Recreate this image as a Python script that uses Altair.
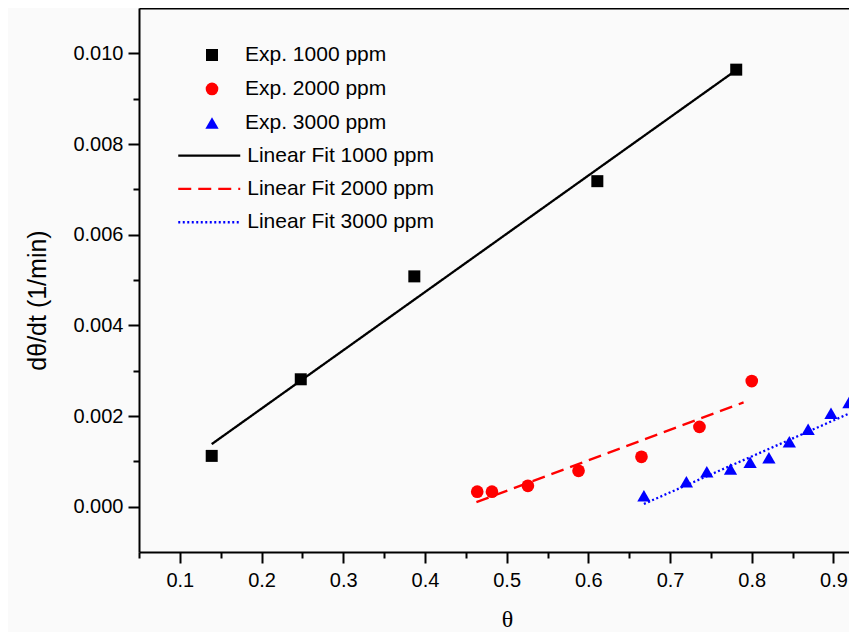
import altair as alt
import pandas as pd

# ---- data ----
exp_labels = ["Exp. 1000 ppm", "Exp. 2000 ppm", "Exp. 3000 ppm"]
fit_labels = ["Linear Fit 1000 ppm", "Linear Fit 2000 ppm", "Linear Fit 3000 ppm"]
colors = ["#000000", "#ff0000", "#0000ff"]
dashes = [[1, 0], [13, 7], [2, 2.5]]

theta_1000 = [0.139, 0.248, 0.387, 0.611, 0.781]
rate_1000 = [0.00112, 0.00281, 0.00508, 0.00718, 0.00964]

theta_2000 = [0.464, 0.482, 0.526, 0.588, 0.665, 0.736, 0.800]
rate_2000 = [0.00033, 0.00033, 0.00046, 0.00079, 0.00110, 0.00176, 0.00277]

theta_3000 = [0.668, 0.720, 0.745, 0.774, 0.798, 0.821, 0.846, 0.869, 0.897, 0.919]
rate_3000 = [0.00024, 0.00055, 0.00077, 0.00083, 0.00098, 0.00108, 0.00143, 0.00171, 0.00206, 0.00230]

fit_theta_1000 = [0.139, 0.781]
fit_rate_1000 = [0.00138, 0.00963]
fit_theta_2000 = [0.463, 0.790]
fit_rate_2000 = [0.00010, 0.00230]
fit_theta_3000 = [0.668, 0.930]
fit_rate_3000 = [0.00006, 0.00214]

x_major = [0.1, 0.2, 0.3, 0.4, 0.5, 0.6, 0.7, 0.8, 0.9]
x_minor = [0.05, 0.15, 0.25, 0.35, 0.45, 0.55, 0.65, 0.75, 0.85]
y_major = [0.0, 0.002, 0.004, 0.006, 0.008, 0.010]
y_minor = [0.001, 0.003, 0.005, 0.007, 0.009]

# ---- tables ----
rows = []
for lab, xs, ys in zip(exp_labels, [theta_1000, theta_2000, theta_3000],
                       [rate_1000, rate_2000, rate_3000]):
    for a, b in zip(xs, ys):
        rows.append({"theta": a, "rate": b, "series": lab})
points_df = pd.DataFrame(rows)

fit_dfs = []
for lab, xs, ys in zip(fit_labels, [fit_theta_1000, fit_theta_2000, fit_theta_3000],
                       [fit_rate_1000, fit_rate_2000, fit_rate_3000]):
    fit_dfs.append(pd.DataFrame({"theta": xs, "rate": ys, "fit": [lab] * len(xs),
                                 "o": list(range(len(xs)))}))

LEFT = 131
W, H = 710, 544
X_MIN = 0.05
X_MAX = X_MIN + W / 817.0

FONT = "Liberation Sans"
ROW = 33.3

x_scale = alt.Scale(domain=[X_MIN, X_MAX], nice=False, zero=False)
y_scale = alt.Scale(domain=[-0.001, 0.011], nice=False, zero=False)

leg_pts = alt.Legend(
    orient="none", legendX=62.5, legendY=30.3, title=None, padding=0,
    labelFont=FONT, labelFontSize=21, labelColor="black", labelLimit=400,
    labelOffset=22.5, clipHeight=ROW, rowPadding=0, symbolStrokeWidth=0,
    symbolOpacity=1,
)

pts = alt.Chart(points_df).mark_point(filled=True, opacity=1, strokeWidth=0).encode(
    x=alt.X("theta:Q", scale=x_scale, axis=alt.Axis(
        orient="bottom", values=x_major, format=".1f", tickSize=11, tickWidth=2,
        tickColor="black", domainColor="black", domainWidth=2, grid=False,
        labelFont=FONT, labelFontSize=20, labelColor="black", labelPadding=7,
        labelFlush=False, labelOverlap=False,
        title="θ", titleFont="Liberation Serif", titleFontSize=24,
        titleFontWeight="normal", titleColor="black", titleX=368, titleY=74,
        titleAlign="center", titleBaseline="alphabetic", titleAnchor="start")),
    y=alt.Y("rate:Q", scale=y_scale, axis=alt.Axis(
        orient="left", values=y_major, format=".3f", tickSize=11, tickWidth=2,
        tickColor="black", domainColor="black", domainWidth=2, grid=False,
        labelFont=FONT, labelFontSize=20, labelColor="black", labelPadding=5,
        labelFlush=False, labelOverlap=False,
        title="dθ/dt (1/min)", titleFont=FONT, titleFontSize=25,
        titleFontWeight="normal", titleColor="black", titleX=-102, titleY=292,
        titleAngle=270, titleAlign="center", titleBaseline="middle",
        titleAnchor="start")),
    fill=alt.Fill("series:N", scale=alt.Scale(domain=exp_labels, range=colors),
                  legend=leg_pts),
    shape=alt.Shape("series:N", scale=alt.Scale(
        domain=exp_labels, range=["square", "circle", "triangle-up"]), legend=leg_pts),
    size=alt.Size("series:N", scale=alt.Scale(domain=exp_labels, range=[144, 177, 225]),
                  legend=leg_pts),
)

fit_layers = []
for i, (lab, df) in enumerate(zip(fit_labels, fit_dfs)):
    leg = alt.Legend(
        orient="none", legendX=37.75, legendY=131 + ROW * i, title=None, padding=0,
        labelFont=FONT, labelFontSize=21, labelColor="black", labelLimit=400,
        labelOffset=5.5, clipHeight=ROW, rowPadding=0, symbolSize=3844,
        symbolStrokeWidth=2.3, symbolType="stroke", symbolDash=dashes[i],
    )
    fit_layers.append(
        alt.Chart(df).mark_line(strokeWidth=2.3, clip=True, strokeDash=dashes[i]).encode(
            x=alt.X("theta:Q", scale=x_scale, axis=None),
            y=alt.Y("rate:Q", scale=y_scale, axis=None),
            color=alt.Color("fit:N", scale=alt.Scale(domain=[lab], range=[colors[i]]),
                            legend=leg),
            order="o:Q",
        )
    )

minor = alt.Chart(points_df).mark_point(opacity=0).encode(
    x=alt.X("theta:Q", scale=x_scale, axis=alt.Axis(
        orient="bottom", values=x_minor, tickSize=6, tickWidth=2, tickColor="black",
        labels=False, domain=False, grid=False, title=None)),
    y=alt.Y("rate:Q", scale=y_scale, axis=alt.Axis(
        orient="left", values=y_minor, tickSize=6, tickWidth=2, tickColor="black",
        labels=False, domain=False, grid=False, title=None)),
)

top = alt.Chart(points_df).mark_point(opacity=0).encode(
    x=alt.X("theta:Q", scale=x_scale, axis=alt.Axis(
        orient="top", ticks=False, labels=False, domain=True, domainWidth=2,
        domainColor="black", grid=False, title=None)),
    y=alt.Y("rate:Q", scale=y_scale, axis=None),
)

chart = alt.layer(pts, *fit_layers, minor, top).resolve_scale(
    color="independent"
).resolve_axis(
    x="independent", y="independent"
).resolve_legend(
    color="independent"
).properties(
    width=W, height=H,
    autosize=alt.AutoSizeParams(type="none"),
    padding={"left": LEFT, "top": 0, "right": 0, "bottom": 80},
    background="#fafafa",
).configure_view(stroke="transparent")

chart.save("out.html", embed_options={"renderer": "svg", "actions": False})
